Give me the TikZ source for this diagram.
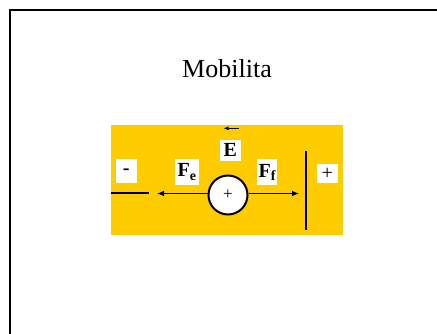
\documentclass[tikz,border=0pt]{standalone}
\usepackage{fontspec}
\setmainfont{Liberation Serif}
\usepackage{xcolor}
\usepackage{tikz}
\usetikzlibrary{arrows.meta}
\definecolor{plategold}{HTML}{FFCC00}

\begin{document}
\begin{tikzpicture}[x=1pt,y=1pt]
\tikzstyle{every node}+=[inner sep=0pt]
\tikzstyle{tag}=[fill=white,minimum width=20.7pt,minimum height=24pt,font=\fontsize{20}{22}\selectfont]
\tikzstyle{force}=[black,line width=0.9pt,-{Latex[length=7pt,width=5.5pt]}]
\useasboundingbox (0,0) rectangle (437,-334);
\draw [black,line width=2pt] (10,-345) -- (10,-10) -- (450,-10);
\draw (227,-69) node (title) {\fontsize{26}{28}\selectfont Mobilita};
\fill [plategold] (111,-125) rectangle (343,-235);
% plates
\coordinate (minusA) at (111,-193);
\coordinate (minusB) at (149,-193);
\draw [black,line width=2pt] (minusA) -- (minusB);
\coordinate (plusA) at (306,-151);
\coordinate (plusB) at (306,-230);
\draw [black,line width=2pt] (plusA) -- (plusB);
% ion
\draw (228,-195) node [circle,draw=black,line width=2pt,fill=white,minimum size=39pt,font=\fontsize{17}{18}\selectfont] (ion) {+};
\coordinate (feEnd) at (157,-193.5);
\coordinate (ffEnd) at (299,-193.5);
\draw [force] (ion.west |- feEnd) -- (feEnd);
\draw [force] (ion.east |- ffEnd) -- (ffEnd);
% field
\coordinate (fieldA) at (238.5,-128.3);
\coordinate (fieldB) at (223.5,-128.3);
\draw [black,line width=0.8pt,-{Latex[length=5pt,width=4pt]}] (fieldA) -- (fieldB);
% labels
\draw (230.3,-150.3) node [tag,minimum height=20.7pt] (E) {\textbf{E}};
\draw (187,-172) node [tag,minimum width=24pt,minimum height=26pt] (Fe) {\textbf{F\textsubscript{e}}};
\draw (267.3,-172.5) node [tag,minimum width=20pt,minimum height=26pt] (Ff) {\textbf{F\textsubscript{f}}};
\draw (126.3,-171.5) node [tag] (minus) {\textbf{-}};
\draw (327.3,-173.7) node [tag,minimum height=19.5pt] (plus) {+};
\end{tikzpicture}
\end{document}
